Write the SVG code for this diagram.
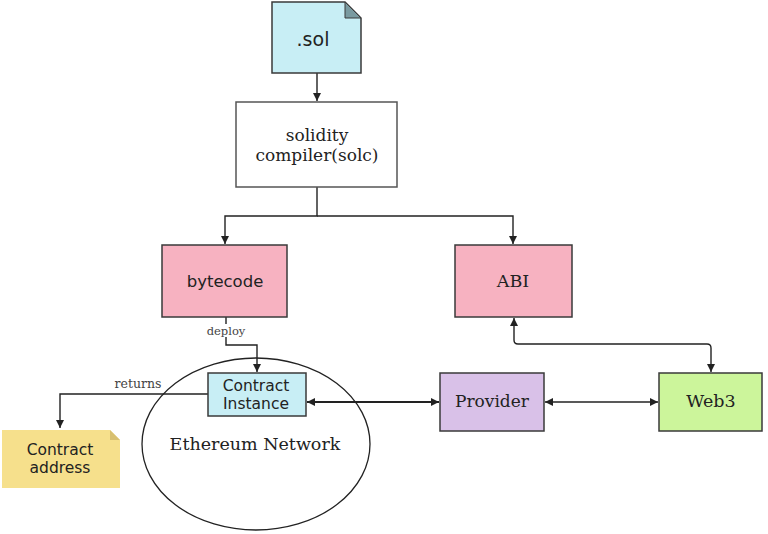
<svg xmlns="http://www.w3.org/2000/svg" width="768" height="534" viewBox="0 0 768 534">
<style>
.box{stroke:#3a3a3a;stroke-width:1.5}
.serif{font-family:"DejaVu Serif","Liberation Serif",serif;fill:#222}
.sans{font-family:"DejaVu Sans","Liberation Sans",sans-serif;fill:#222}
.ln{fill:none;stroke:#222;stroke-width:1.4}
.lbl{font-family:"DejaVu Serif","Liberation Serif",serif;font-size:11.5px;fill:#444}
</style>
<defs>
<marker id="ah" viewBox="0 0 10 10" refX="10" refY="5" markerWidth="8" markerHeight="8" markerUnits="userSpaceOnUse" orient="auto-start-reverse">
<path d="M0,0 L10,5 L0,10 z" fill="#222"/>
</marker>
</defs>
<rect width="768" height="534" fill="#fff"/>
<g id="connectors">
<line class="ln" x1="317" y1="73" x2="317" y2="101" marker-end="url(#ah)"/>
<path class="ln" d="M317,187 V216 H225 V244" marker-end="url(#ah)"/>
<path class="ln" d="M317,216 H513 V244" marker-end="url(#ah)"/>
<path class="ln" d="M226,317 V345 H257 V372" marker-end="url(#ah)"/>
<path class="ln" d="M208,394 H60 V428" marker-end="url(#ah)"/>
<line class="ln" style="stroke-width:2" x1="307" y1="402" x2="439" y2="402" marker-start="url(#ah)" marker-end="url(#ah)"/>
<line class="ln" x1="545" y1="402" x2="658" y2="402" marker-start="url(#ah)" marker-end="url(#ah)"/>
<path class="ln" d="M514,318 V340 Q514,344 518,344 H707 Q711,344 711,348 V372" marker-start="url(#ah)" marker-end="url(#ah)"/>
<rect x="204" y="324" width="44" height="13" fill="#fff"/>
<text class="lbl" x="226" y="335" text-anchor="middle">deploy</text>
<text class="lbl" x="138" y="388" text-anchor="middle" style="font-size:12.5px">returns</text>
</g>
<g id="sol">
<path class="box" d="M272,2 H345 L361,18 V73 H272 Z" fill="#c8eef5"/>
<path d="M345,2 L345,18 L361,18 Z" fill="#7a9aa0" stroke="#3a3a3a" stroke-width="1"/>
<text class="sans" x="313" y="46" font-size="19" text-anchor="middle">.sol</text>
</g>
<g id="compiler">
<rect class="box" x="236" y="102" width="161" height="85" fill="#fff" style="stroke:#555"/>
<text class="serif" x="317" y="141" font-size="17" text-anchor="middle">solidity</text>
<text class="serif" x="317" y="161" font-size="17" text-anchor="middle">compiler(solc)</text>
</g>
<g id="bytecode">
<rect class="box" x="162" y="245" width="125" height="72" fill="#f7b2c1"/>
<text class="sans" x="225" y="287" font-size="16.5" text-anchor="middle">bytecode</text>
</g>
<g id="abi">
<rect class="box" x="455" y="245" width="117" height="72" fill="#f7b2c1"/>
<text class="serif" x="513" y="287" font-size="17.5" text-anchor="middle">ABI</text>
</g>
<g id="ethereum">
<ellipse cx="256" cy="444" rx="114" ry="86" fill="none" stroke="#222" stroke-width="1.3"/>
<text class="serif" x="255" y="450" font-size="17.5" text-anchor="middle">Ethereum Network</text>
</g>
<g id="instance">
<rect class="box" x="208" y="373" width="98" height="43" fill="#c8eef5"/>
<text class="sans" x="256" y="391" font-size="15.5" text-anchor="middle">Contract</text>
<text class="sans" x="256" y="409" font-size="15.5" text-anchor="middle">Instance</text>
</g>
<g id="address">
<path d="M2,430 H110 L120,440 V488 H2 Z" fill="#f6e08c"/>
<path d="M110,430 L110,440 L120,440 Z" fill="#d8c070"/>
<text class="sans" x="60" y="455" font-size="15.5" text-anchor="middle">Contract</text>
<text class="sans" x="60" y="473" font-size="15.5" text-anchor="middle">address</text>
</g>
<g id="provider">
<rect class="box" x="440" y="373" width="104" height="58" fill="#d9c1e8"/>
<text class="serif" x="492" y="407" font-size="17" text-anchor="middle">Provider</text>
</g>
<g id="web3">
<rect class="box" x="659" y="373" width="103" height="58" fill="#ccf59b"/>
<text class="serif" x="711" y="407" font-size="17.5" text-anchor="middle">Web3</text>
</g>
</svg>
